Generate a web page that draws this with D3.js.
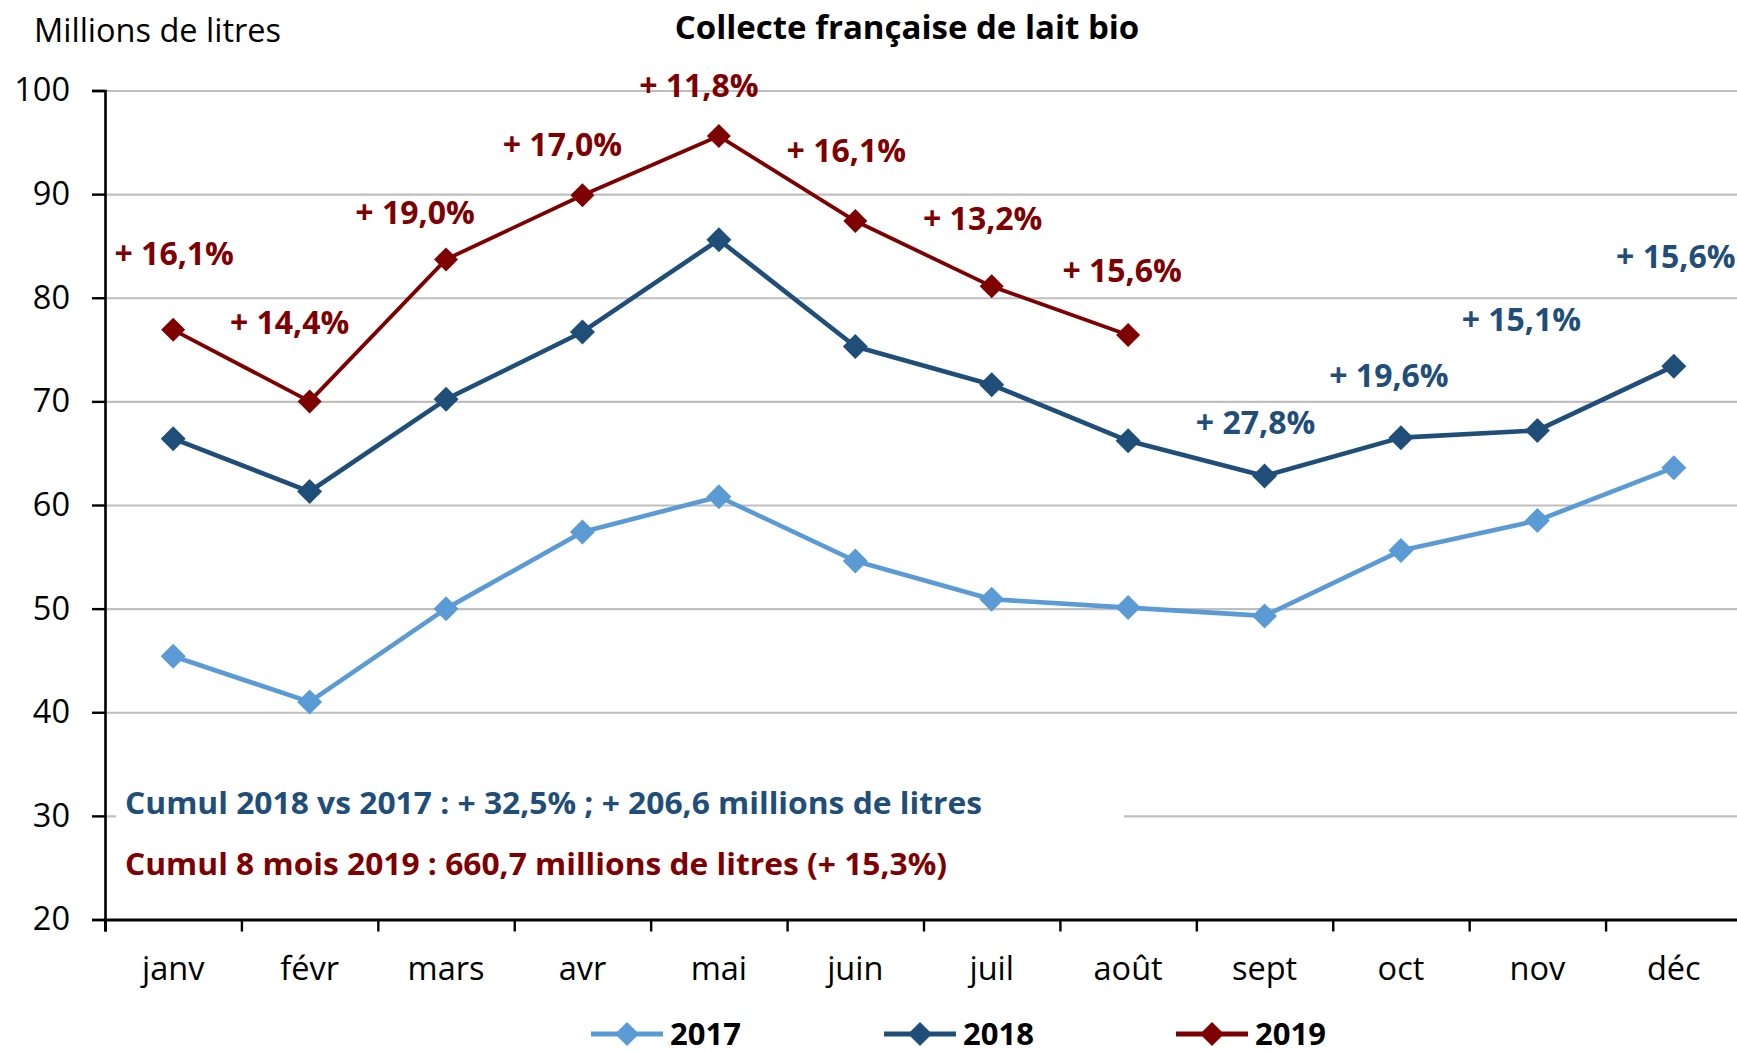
<!DOCTYPE html>
<html><head><meta charset="utf-8">
<script src="https://cdn.jsdelivr.net/npm/d3@7"></script>
<style>body{margin:0;background:#fff;overflow:hidden} svg{display:block}</style>
</head><body>
<script>
// ---------- data ----------
const months = ["janv","févr","mars","avr","mai","juin","juil","août","sept","oct","nov","déc"];
const s2017 = [45.4,41.0,50.0,57.4,60.8,54.6,50.9,50.1,49.3,55.6,58.5,63.6];
const s2018 = [66.4,61.3,70.2,76.7,85.6,75.3,71.6,66.2,62.8,66.5,67.2,73.4];
const s2019 = [76.9,70.0,83.7,89.9,95.6,87.4,81.1,76.4];
const labels2019 = ["+ 16,1%","+ 14,4%","+ 19,0%","+ 17,0%","+ 11,8%","+ 16,1%","+ 13,2%","+ 15,6%"];
const labels2018 = [null,null,null,null,null,null,null,null,"+ 27,8%","+ 19,6%","+ 15,1%","+ 15,6%"];
const yTicks = [20,30,40,50,60,70,80,90,100];
const seriesNames = ["2017","2018","2019"];
const titleText = "Collecte française de lait bio";
const yTitleText = "Millions de litres";
const notes = ["Cumul 2018 vs 2017 : + 32,5% ; + 206,6 millions de litres",
               "Cumul 8 mois 2019 : 660,7 millions de litres (+ 15,3%)"];

// ---------- layout ----------
const W = 1737, H = 1053;
const colors = {"2017":"#5B9BD5","2018":"#1F4E79","2019":"#7F0000"};
const lineW = {"2017":4.6,"2018":4.6,"2019":3.8};
const markR = {"2017":12.5,"2018":12.5,"2019":12};
const FONT = "'Open Sans', 'Noto Sans', sans-serif";
// label offsets (px) from their data point
const off2019 = [[1,-65],[-20,-67],[-31,-35],[-20,-39],[-20,-39],[-9,-59],[-9,-56],[-6,-53]];
const off2018 = {8:[-9,-42],9:[-12,-51],10:[-16,-99],11:[2,-98]};

const svg = d3.select("body").append("svg").attr("width",W).attr("height",H)
  .style("font-family",FONT);

const x0 = 105, x1 = 1742;
const x = d3.scaleBand().domain(months).range([x0,x1]).padding(0);
const xb = d3.scaleLinear().domain([0,months.length]).range([x0,x1]);
const y = d3.scaleLinear().domain([20,100]).range([919.5,90.5]);
const cx = m => x(m) + x.bandwidth()/2;

// gridlines
const grid = svg.append("g").attr("transform",`translate(${x0},0)`)
  .call(d3.axisLeft(y).tickValues(yTicks.filter(v=>v>20)).tickSize(-(x1-x0)).tickFormat(""));
grid.select(".domain").remove();
grid.selectAll("line").attr("stroke","#BFBFBF").attr("stroke-width",2.2);

// white box behind notes
svg.append("rect").attr("x",116).attr("y",772).attr("width",1008).attr("height",120).attr("fill","#fff");

// y axis
const ya = svg.append("g").attr("transform",`translate(${x0},0)`)
  .call(d3.axisLeft(y).tickValues(yTicks).tickSize(13).tickPadding(22).tickFormat(d3.format("d")));
ya.select(".domain").attr("stroke","#000").attr("stroke-width",2.6);
ya.selectAll("line").attr("stroke","#000").attr("stroke-width",2.4);
ya.selectAll("text").attr("font-size",32.5).attr("fill","#000").attr("font-family",FONT);

// x axis (ticks between categories)
const xa = svg.append("g").attr("transform",`translate(0,${y(20)})`)
  .call(d3.axisBottom(xb).tickValues(d3.range(0,months.length+1)).tickSize(12).tickFormat(""));
xa.select(".domain").attr("stroke","#000").attr("stroke-width",3);
xa.selectAll("line").attr("stroke","#000").attr("stroke-width",2.4);
const xl = svg.append("g").attr("transform",`translate(0,${y(20)})`)
  .call(d3.axisBottom(x).tickSize(0).tickPadding(37));
xl.select(".domain").remove();
xl.selectAll("text").attr("font-size",32.5).attr("fill","#000").attr("font-family",FONT);

// series
const diamond = r => `M0,${-r}L${r},0L0,${r}L${-r},0Z`;
const seriesData = [["2017",s2017],["2018",s2018],["2019",s2019]];
const line = d3.line().x((d,i)=>cx(months[i])).y(d=>y(d));
seriesData.forEach(([name,vals])=>{
  const g = svg.append("g");
  g.append("path").datum(vals).attr("d",line).attr("fill","none")
    .attr("stroke",colors[name]).attr("stroke-width",lineW[name]).attr("stroke-linejoin","round");
  g.selectAll("path.m").data(vals).join("path").attr("class","m")
    .attr("transform",(d,i)=>`translate(${cx(months[i])},${y(d)})`)
    .attr("d",diamond(markR[name])).attr("fill",colors[name]);
});

// percentage labels
const lab = svg.append("g").attr("font-weight","bold").attr("font-size",32).attr("text-anchor","middle");
labels2019.forEach((t,i)=>{
  lab.append("text").attr("x",cx(months[i])+off2019[i][0]).attr("y",y(s2019[i])+off2019[i][1])
    .attr("fill",colors["2019"]).text(t);
});
labels2018.forEach((t,i)=>{
  if(!t) return;
  lab.append("text").attr("x",cx(months[i])+off2018[i][0]).attr("y",y(s2018[i])+off2018[i][1])
    .attr("fill",colors["2018"]).text(t);
});

// notes
svg.append("text").attr("x",125).attr("y",814).attr("font-weight","bold").attr("font-size",30)
  .attr("fill",colors["2018"]).attr("textLength",857).attr("lengthAdjust","spacingAndGlyphs").text(notes[0]);
svg.append("text").attr("x",125).attr("y",875).attr("font-weight","bold").attr("font-size",30)
  .attr("fill",colors["2019"]).attr("textLength",822).attr("lengthAdjust","spacingAndGlyphs").text(notes[1]);

// titles
svg.append("text").attr("x",907).attr("y",39).attr("text-anchor","middle").attr("font-weight","bold")
  .attr("font-size",33).attr("fill","#000").text(titleText);
svg.append("text").attr("x",34).attr("y",42).attr("font-size",32.5).attr("fill","#000").text(yTitleText);

// legend
const legX = [591,884,1176];
const leg = svg.append("g");
seriesNames.forEach((n,i)=>{
  const g = leg.append("g").attr("transform",`translate(${legX[i]},1034)`);
  g.append("line").attr("x1",0).attr("x2",72).attr("stroke",colors[n]).attr("stroke-width",5);
  g.append("path").attr("transform","translate(36,0)").attr("d",diamond(12)).attr("fill",colors[n]);
  g.append("text").attr("x",79).attr("y",11).attr("font-weight","bold").attr("font-size",31)
    .attr("fill","#000").text(n);
});
</script>
</body></html>
